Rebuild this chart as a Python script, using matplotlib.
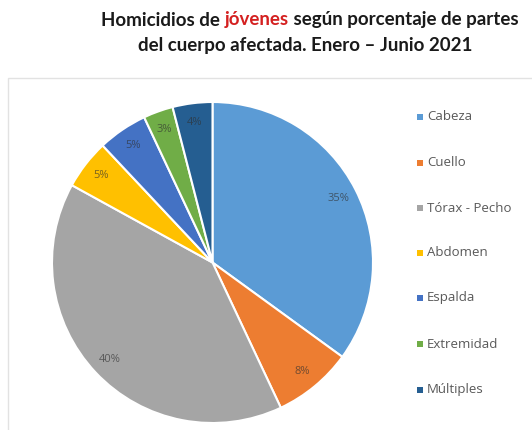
import matplotlib
matplotlib.use("Agg")
import matplotlib.pyplot as plt
from matplotlib.patches import Rectangle

categories = ["Cabeza", "Cuello", "Tórax - Pecho", "Abdomen", "Espalda", "Extremidad", "Múltiples"]
values = [35, 8, 40, 5, 5, 3, 4]
colors = ["#5B9BD5", "#ED7D31", "#A5A5A5", "#FFC000", "#4472C4", "#70AD47", "#255E91"]
title_parts_1 = [("Homicidios de ", "#1a1a1a"), ("jóvenes", "#D42020"), (" según porcentaje de partes", "#1a1a1a")]
title_line_2 = "del cuerpo afectada. Enero – Junio 2021"

W, H = 532, 430
fig = plt.figure(figsize=(W / 100, H / 100), dpi=100)
fig.patch.set_facecolor("white")

# faint chart frame
fig.add_artist(Rectangle((8 / W, -0.01), (W - 8) / W + 0.01, (H - 78) / H + 0.01,
                         transform=fig.transFigure, fill=False, edgecolor="#e2e2e2", lw=1))

cx, cy, r = 212.5, 262.5, 160.5
ax = fig.add_axes([(cx - r) / W, (H - cy - r) / H, 2 * r / W, 2 * r / H])
wedges, texts, autotexts = ax.pie(
    values, colors=colors, startangle=90, counterclock=False,
    autopct=lambda p: f"{p:.0f}%", pctdistance=0.88,
    wedgeprops=dict(edgecolor="white", linewidth=1.5),
    textprops=dict(fontsize=8, color="#303030", alpha=0.65, family="Open Sans"),
)
ax.set_xlim(-1, 1)
ax.set_ylim(-1, 1)
ax.set_aspect("equal")
ax.axis("off")

# legend
leg_y = [117, 163, 208, 253, 298, 344, 390]
for cat, col, y in zip(categories, colors, leg_y):
    fig.add_artist(Rectangle((417 / W, (H - y - 3) / H), 6 / W, 6 / H,
                             transform=fig.transFigure, color=col, lw=0))
    fig.text(427 / W, (H - y) / H, cat, fontsize=9.5, color="#595959",
             va="center", ha="left", family="Open Sans")

# title with colored word
fig.canvas.draw()
renderer = fig.canvas.get_renderer()
fs = 13.5
pieces = []
for s, c in title_parts_1:
    t = fig.text(0, 0, s, fontsize=fs, fontweight="bold", color=c, family="Lato", va="center", ha="left")
    pieces.append(t)
widths = [p.get_window_extent(renderer).width for p in pieces]
total = sum(widths)
x0 = 310 - total / 2
for p, w in zip(pieces, widths):
    p.set_position((x0 / W, (H - 20) / H))
    x0 += w
fig.text(305 / W, (H - 46) / H, title_line_2, fontsize=fs, fontweight="bold", color="#1a1a1a",
         family="Lato", va="center", ha="center")

fig.savefig("out.png", dpi=100)
